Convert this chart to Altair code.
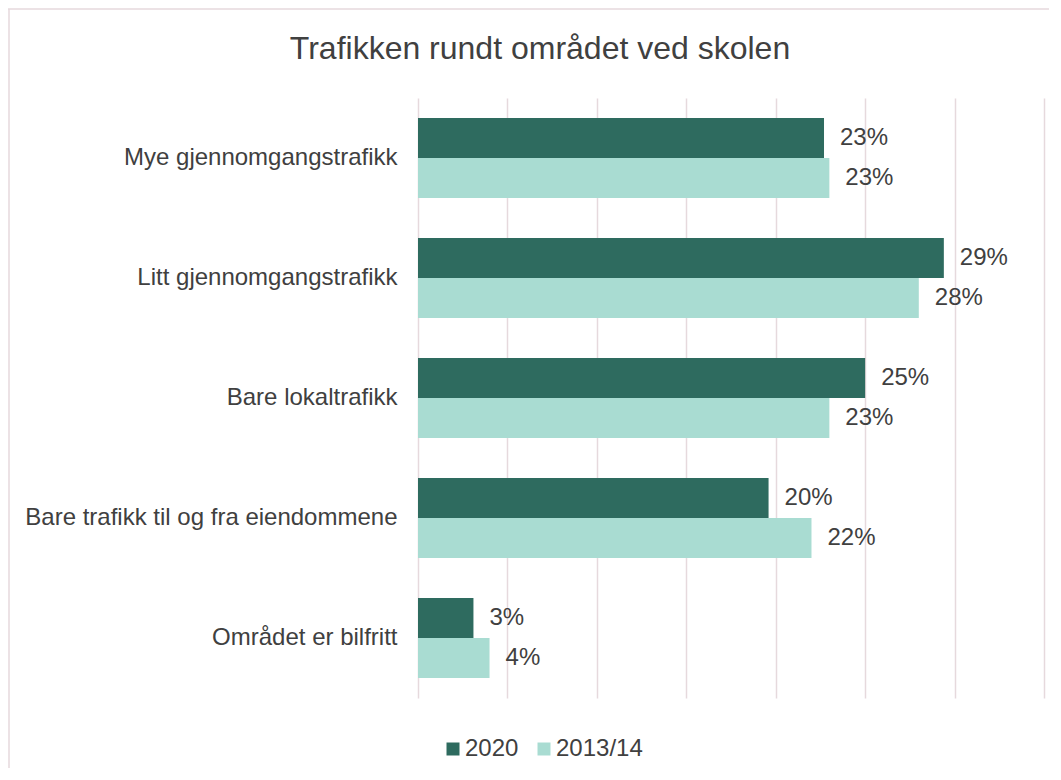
import altair as alt
import pandas as pd

categories = ["Mye gjennomgangstrafikk", "Litt gjennomgangstrafikk", "Bare lokaltrafikk",
              "Bare trafikk til og fra eiendommene", "Området er bilfritt"]
series = ["2020", "2013/14"]
values_2020 = [22.7, 29.4, 25.0, 19.6, 3.1]
values_2013 = [23.0, 28.0, 23.0, 22.0, 4.0]
labels_2020 = ["23%", "29%", "25%", "20%", "3%"]
labels_2013 = ["23%", "28%", "23%", "22%", "4%"]
colors = ["#2e6b5f", "#a9dcd2"]
title_text = "Trafikken rundt området ved skolen"

rows = []
for i, c in enumerate(categories):
    rows.append({"cat": c, "serie": "2020", "v": values_2020[i], "lab": labels_2020[i], "o": 0})
    rows.append({"cat": c, "serie": "2013/14", "v": values_2013[i], "lab": labels_2013[i], "o": 1})
df = pd.DataFrame(rows)

FONT = "Liberation Sans"
TXT = "#404040"
GRID = "#e6d9dd"

y = alt.Y("cat:N", sort=categories, title=None,
          scale=alt.Scale(paddingInner=1/3, paddingOuter=1/6),
          axis=alt.Axis(labelFontSize=24, labelFont=FONT, labelColor=TXT, labelPadding=21,
                        ticks=False, domain=False, labelLimit=420))
x = alt.X("v:Q", title=None, scale=alt.Scale(domain=[0, 35], nice=False),
          axis=alt.Axis(values=[0, 5, 10, 15, 20, 25, 30, 35], labels=False, ticks=False,
                        domain=False, grid=True, gridColor=GRID, gridWidth=1.5))
yoff = alt.YOffset("o:O", scale=alt.Scale(paddingInner=0, paddingOuter=0))

bars = alt.Chart(df).mark_bar(strokeWidth=0).encode(
    x=x, y=y, yOffset=yoff,
    color=alt.Color("serie:N", sort=series,
                    scale=alt.Scale(domain=series, range=colors),
                    legend=alt.Legend(title=None, orient="none", legendX=23, legendY=639,
                                      direction="horizontal", symbolType="square",
                                      symbolSize=169, symbolStrokeWidth=0,
                                      labelFontSize=24, labelFont=FONT, labelColor=TXT,
                                      labelOffset=0, columnPadding=13)),
)

text = alt.Chart(df).mark_text(align="left", baseline="middle", dx=16, fontSize=24,
                               font=FONT, color=TXT).encode(
    x="v:Q", y=alt.Y("cat:N", sort=categories), yOffset=yoff, text="lab:N")

title = alt.Chart(pd.DataFrame({"t": [title_text]})).mark_text(
    fontSize=32, font=FONT, color=TXT, align="center", baseline="middle").encode(
    x=alt.value(122), y=alt.value(-49), text="t:N")

border = alt.Chart(pd.DataFrame({"a": [0]})).mark_rule(color=GRID, strokeWidth=1.5).encode(
    x=alt.value(-410), x2=alt.value(650), y=alt.value(-89))
border2 = alt.Chart(pd.DataFrame({"a": [0]})).mark_rule(color=GRID, strokeWidth=1.5).encode(
    x=alt.value(-409), y=alt.value(-89), y2=alt.value(680))

chart = alt.layer(border, border2, bars, text, title).properties(
    width=626, height=600,
    autosize=alt.AutoSizeParams(type="none"),
    padding={"left": 410, "top": 90, "right": 5, "bottom": 70},
).configure_view(stroke=None)

chart.save("out.html", embed_options={"renderer": "svg", "actions": False})
